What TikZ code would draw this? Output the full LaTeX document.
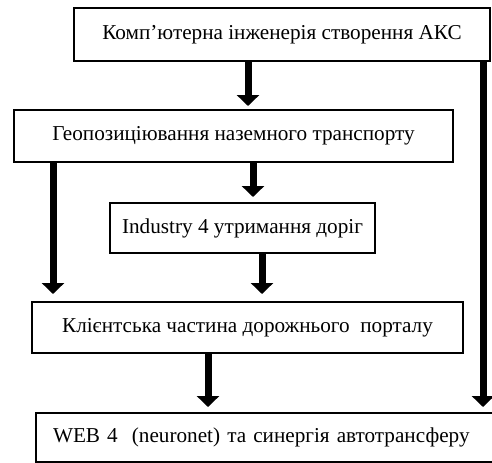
\documentclass[tikz,border=0pt]{standalone}
\usepackage{fontspec}
\setmainfont{Liberation Serif}
\usetikzlibrary{arrows.meta}
\begin{document}
\begin{tikzpicture}[x=0.5pt,y=-0.5pt,
    blok/.style={draw, line width=1pt, inner sep=0pt, font=\fontsize{10.6}{12}\selectfont},
    arr/.style={line width=3.5pt, -{Triangle[width=11pt,length=5.5pt]}}]
    \useasboundingbox (0,0) rectangle (492,462);
    \clip (0,0) rectangle (492,462);
%    \draw[help lines] (0,0) grid[step=50] (492,462);
    \node[blok, minimum width=208pt, minimum height=26.5pt] (N1) at (282,34.5) {Комп’ютерна інженерія створення АКС};
    \node[blok, minimum width=219.5pt, minimum height=26pt] (N2) at (233.5,136) {Геопозиціювання наземного транспорту};
    \node[blok, minimum width=132.5pt, minimum height=25pt] (N3) at (242.5,228) {Industry 4 утримання доріг};
    \node[blok, minimum width=215.5pt, minimum height=25.5pt] (N4) at (247.5,327.5) {Клієнтська частина дорожнього\ \ порталу};
    \node[blok, anchor=north west, text width=215pt, align=left, inner xsep=8.5pt,
        minimum height=24.5pt] (N5) at (35,412) {WEB 4\ \ (neuronet) та синергія автотрансферу};
    % arrows
    \draw[arr, shorten >=1.5pt] ([xshift=-17pt]N1.south) -- ([xshift=-17pt]N1.south |- N2.north);
    \draw[arr, shorten >=2.5pt] ([xshift=100.5pt]N1.south) -- ([xshift=100.5pt]N1.south |- N5.north);
    \draw[arr, shorten >=3.5pt] ([xshift=-90.25pt]N2.south) -- ([xshift=-90.25pt]N2.south |- N4.north);
    \draw[arr, shorten >=2.5pt] ([xshift=9.75pt]N2.south) -- ([xshift=9.75pt]N2.south |- N3.north);
    \draw[arr, shorten >=3.5pt] ([xshift=9.75pt]N3.south) -- ([xshift=9.75pt]N3.south |- N4.north);
    \draw[arr, shorten >=2.5pt] ([xshift=-19.75pt]N4.south) -- ([xshift=-19.75pt]N4.south |- N5.north);
\end{tikzpicture}
\end{document}
